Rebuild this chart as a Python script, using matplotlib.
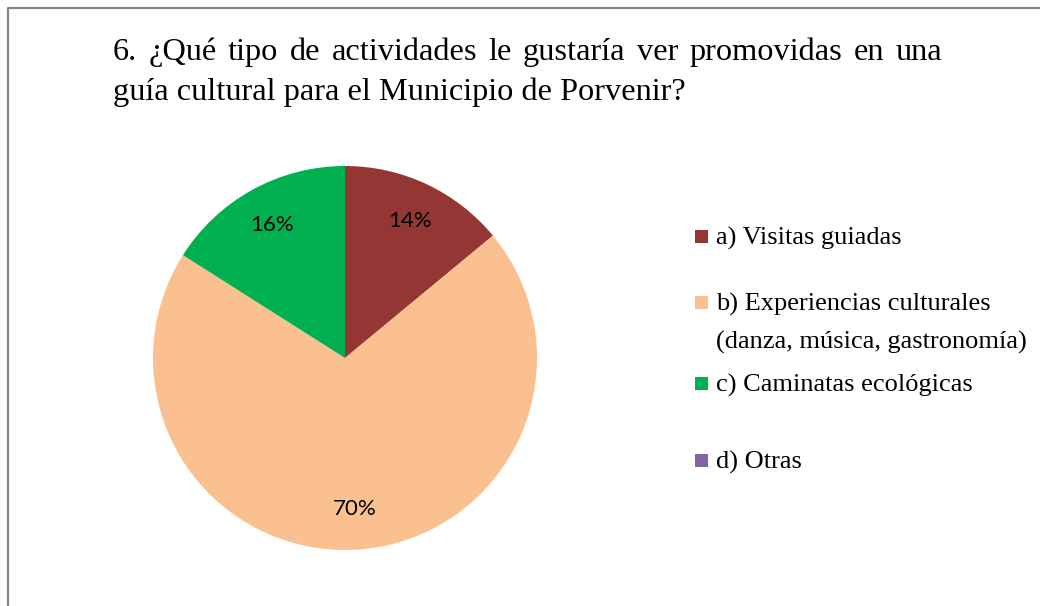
import matplotlib
matplotlib.use('Agg')
import matplotlib.pyplot as plt
from matplotlib.patches import Rectangle
from matplotlib.lines import Line2D

# data
categorias = ['a) Visitas guiadas',
              'b) Experiencias culturales\n(danza, música, gastronomía)',
              'c) Caminatas ecológicas',
              'd) Otras']
porcentajes = [14, 70, 16, 0]
colores = ['#943634', '#FAC090', '#00B050', '#8064A2']
titulo = ['6. ¿Qué tipo de actividades le gustaría ver promovidas en una',
          'guía cultural para el Municipio de Porvenir?']

W, H = 1040, 606
fig = plt.figure(figsize=(W / 100, H / 100), dpi=100)
fig.patch.set_facecolor('white')

# frame (left and top edges visible)
fig.add_artist(Line2D([8 / W, 8 / W, 1.0], [0, 1 - 8 / H, 1 - 8 / H],
                      transform=fig.transFigure, color='#878787', lw=1.6))

# pie
cx, cy, r = 345, 358, 192
ax = fig.add_axes([(cx - r) / W, (H - cy - r) / H, 2 * r / W, 2 * r / H])
wedges, texts, autotexts = ax.pie(
    porcentajes, colors=colores, startangle=90, counterclock=False,
    autopct=lambda p: '' if p < 0.5 else '%d%%' % round(p),
    pctdistance=0.79, radius=1,
    textprops={'fontsize': 16, 'family': 'Lato'})
ax.set_xlim(-1, 1)
ax.set_ylim(-1, 1)
ax.set_aspect('equal')
ax.axis('off')

# title, justified first line
serif = 'Liberation Serif'
tsize = 23.3
x0, x1 = 113, 942
fig.canvas.draw()
renderer = fig.canvas.get_renderer()
palabras = titulo[0].split(' ')
objs = [fig.text(0, 0, w, fontsize=tsize, family=serif) for w in palabras]
anchos = [o.get_window_extent(renderer).width for o in objs]
hueco = (x1 - x0 - sum(anchos)) / (len(palabras) - 1)
x = x0
for o, a in zip(objs, anchos):
    o.set_position((x / W, 1 - 60 / H))
    o.set_va('baseline')
    x += a + hueco
fig.text(x0 / W, 1 - 100 / H, titulo[1], fontsize=tsize, family=serif,
         va='baseline')

# legend
lsize = 19
leg_y = [236, 302, 383, 460]
for etiqueta, color, y in zip(categorias, colores, leg_y):
    fig.add_artist(Rectangle(((695) / W, 1 - (y + 6.5) / H), 13 / W, 13 / H,
                             transform=fig.transFigure, facecolor=color,
                             edgecolor='none'))
    lineas = etiqueta.split('\n')
    for k, linea in enumerate(lineas):
        fig.text(716 / W, 1 - (y + 38 * k) / H, linea, fontsize=lsize,
                 family=serif, va='center_baseline')

fig.savefig('out.png', dpi=100)
